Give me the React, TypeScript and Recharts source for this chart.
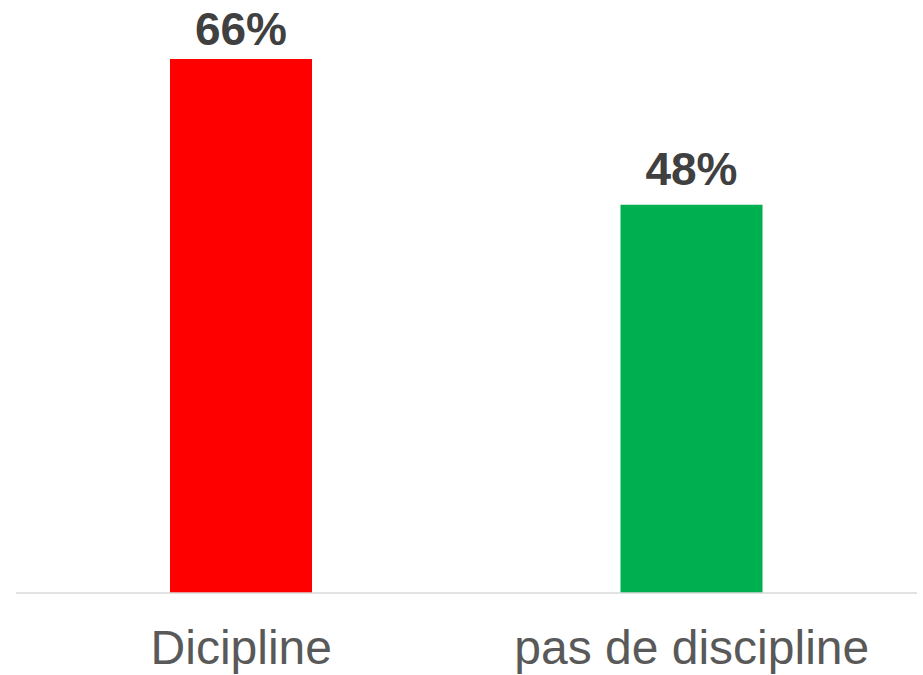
import { BarChart, Bar, XAxis, YAxis, Cell, LabelList } from 'recharts'

const categories = ['Dicipline', 'pas de discipline']
const values = [66, 48]
const barColors = ['#FF0000', '#00B050']

const data = categories.map((name, i) => ({ name, value: values[i] }))

// gap between label baseline and bar top, per bar (looks uneven in the original)
const labelGaps = [14, 20]

const formatPercent = (v: number) => `${v}%`

const renderLabel = (props: any) => {
  const { x, y, width, value, index } = props
  return (
    <text
      x={Number(x) + Number(width) / 2}
      y={Number(y) - labelGaps[index]}
      textAnchor="middle"
      fill="#404040"
      fontSize={46}
      fontWeight="bold"
    >
      {formatPercent(value)}
    </text>
  )
}

export default function App() {
  return (
    <div style={{ position: 'absolute', left: 0, top: 0, fontFamily: '"Liberation Sans", Arial, sans-serif' }}>
      <BarChart
        width={923}
        height={675}
        data={data}
        margin={{ top: 59, right: 6, bottom: 0, left: 16 }}
        barCategoryGap={0}
      >
        <XAxis
          dataKey="name"
          height={82}
          tickLine={false}
          axisLine={{ stroke: '#D9D9D9', strokeWidth: 1.5 }}
          tickMargin={31}
          tick={{ fill: '#595959', fontSize: 48 }}
          interval={0}
        />
        <YAxis hide domain={[0, 66]} />
        <Bar dataKey="value" barSize={142} isAnimationActive={false}>
          {data.map((d, i) => (
            <Cell key={d.name} fill={barColors[i]} />
          ))}
          <LabelList dataKey="value" content={renderLabel} />
        </Bar>
      </BarChart>
    </div>
  )
}
